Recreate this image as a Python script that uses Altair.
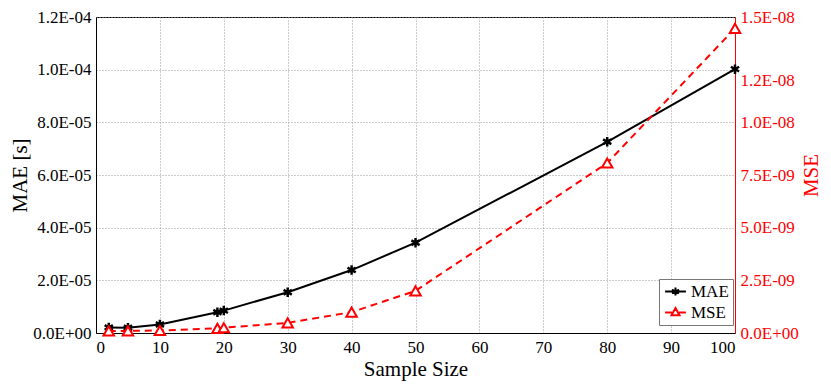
import altair as alt
import pandas as pd

sample_size = [2, 5, 10, 19, 20, 30, 40, 50, 80, 100]
mae_values = [2.1e-6, 2.0e-6, 3.2e-6, 7.9e-6, 8.5e-6, 15.5e-6, 23.9e-6, 34.3e-6, 72.6e-6, 100.2e-6]
mse_values = [0.10e-9, 0.10e-9, 0.12e-9, 0.22e-9, 0.25e-9, 0.48e-9, 0.99e-9, 2.0e-9, 8.07e-9, 14.46e-9]
series_names = ["MAE", "MSE"]
x_ticks = [0, 10, 20, 30, 40, 50, 60, 70, 80, 90, 100]
left_ticks = [0, 2e-5, 4e-5, 6e-5, 8e-5, 1e-4, 1.2e-4]
right_ticks = [0, 2.5e-9, 5e-9, 7.5e-9, 1e-8, 1.2e-8, 1.5e-8]

df = pd.DataFrame(
    {"x": sample_size * 2,
     "value": mae_values + mse_values,
     "series": [series_names[0]] * len(sample_size) + [series_names[1]] * len(sample_size)}
)

FONT = "Liberation Serif"
RED = "#ff0000"
LS = 17
TS = 21

sci = ("split(format(datum.value, '.1e'), 'e')[0] + 'E' + "
       "(toNumber(split(format(datum.value, '.1e'), 'e')[1]) < 0 ? '-' : '+') + "
       "(abs(toNumber(split(format(datum.value, '.1e'), 'e')[1])) < 10 ? '0' : '') + "
       "abs(toNumber(split(format(datum.value, '.1e'), 'e')[1]))")

common_axis = dict(labelFont=FONT, labelFontSize=LS, titleFont=FONT, titleFontSize=TS,
                   titleFontWeight="normal", ticks=False,
                   gridColor="#999", gridDash=[1, 2], gridWidth=1, gridOpacity=1)

x_enc = alt.X("x:Q", scale=alt.Scale(domain=[0, 100], nice=False),
              axis=alt.Axis(values=x_ticks, title="Sample Size", grid=True,
                            labelPadding=6, titlePadding=3, labelColor="black",
                            titleColor="black", domainColor="black", **common_axis))

ASTER = "M0,-1L0,1M-0.87,-0.5L0.87,0.5M-0.87,0.5L0.87,-0.5"
MAE_LEG = "M-2.6,0L2.6,0M0,-1L0,1M-0.87,-0.5L0.87,0.5M-0.87,0.5L0.87,-0.5"
MSE_LEG = "M-2.6,0L-0.9,0M0.9,0L2.6,0M0,-1.1L1,0.7L-1,0.7Z"

legend = alt.Legend(
    title=None, orient="none", legendX=563, legendY=262,
    fillColor="white", strokeColor="#777", padding=4,
    labelFont=FONT, labelFontSize=LS, labelColor="black",
    symbolSize=64, symbolStrokeWidth=2, labelOffset=7, symbolOffset=4,
    rowPadding=3, symbolOpacity=1, symbolFillColor="transparent",
)

mae_base = alt.Chart(df).transform_filter(alt.datum.series == "MAE")
mae_y = alt.Y("value:Q", scale=alt.Scale(domain=[0, 1.2e-4], nice=False),
              axis=alt.Axis(values=left_ticks, labelExpr=sci, title="MAE [s]", grid=True,
                            labelPadding=5, titleX=-76, titleBaseline="middle",
                            labelColor="black", titleColor="black", domainColor="black",
                            **common_axis))
mae_line = mae_base.mark_line(color="black", strokeWidth=2).encode(x=x_enc, y=mae_y)
mae_pts = mae_base.mark_point(shape=ASTER, size=90, strokeWidth=2.5, filled=False,
                              color="black", opacity=1).encode(x=x_enc, y=mae_y)
legend_layer = alt.Chart(df).transform_filter(alt.datum.x < 0).mark_point(
    filled=False, strokeWidth=2).encode(
    x=x_enc, y=mae_y,
    color=alt.Color("series:N", scale=alt.Scale(domain=series_names, range=["black", RED]), legend=legend),
    shape=alt.Shape("series:N", scale=alt.Scale(domain=series_names, range=[MAE_LEG, MSE_LEG]), legend=legend),
)

mse_base = alt.Chart(df).transform_filter(alt.datum.series == "MSE")
mse_y = alt.Y("value:Q", scale=alt.Scale(domain=[0, 1.5e-8], nice=False),
              axis=alt.Axis(values=right_ticks, labelExpr=sci, title="MSE", grid=False,
                            orient="right", labelColor=RED, titleColor=RED,
                            domainColor=RED, labelPadding=5, titleAngle=270,
                            titleX=76, titleBaseline="middle", **common_axis))
mse_line = mse_base.mark_line(color=RED, strokeWidth=2, strokeDash=[7, 5]).encode(x=x_enc, y=mse_y)
mse_pts = mse_base.mark_point(shape="triangle-up", size=110, strokeWidth=2, filled=False,
                              color=RED, fill="white", opacity=1).encode(x=x_enc, y=mse_y)

chart = alt.layer(
    alt.layer(mae_line, mae_pts, legend_layer),
    alt.layer(mse_line, mse_pts),
).resolve_scale(y="independent").properties(
    width=639, height=316,
    autosize=alt.AutoSizeParams(type="none"),
    padding={"left": 88, "top": 9, "right": 87, "bottom": 49},
).configure_view(stroke="black", strokeWidth=1)

chart.save("out.html", embed_options={"renderer": "svg", "actions": False})
